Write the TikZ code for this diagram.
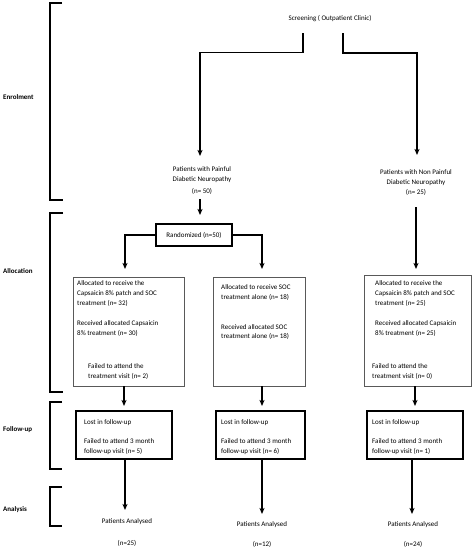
\documentclass[tikz,border=0pt]{standalone}
\usepackage{fontspec}
\setmainfont{Carlito}
\usetikzlibrary{arrows.meta}
\begin{document}
\begin{tikzpicture}[x=1pt,y=-1pt,
  txt/.style={inner sep=0pt, font=\fontsize{7}{10}\selectfont, anchor=base west},
  ctxt/.style={txt, anchor=base},
  lbl/.style={inner sep=0pt, font=\fontsize{7}{10}\selectfont\bfseries, anchor=west},
  ln/.style={line width=1.3pt},
  arr/.style={ln, -{Stealth[length=6pt,width=5pt,inset=1.5pt]}},
  thinbox/.style={draw=black!65, line width=0.8pt, inner sep=0pt},
  thickbox/.style={draw, line width=1.6pt, inner sep=0pt, font=\fontsize{7}{10}\selectfont},
  bracket/.style={line width=1.3pt}]
\useasboundingbox (0,0) rectangle (474,549);

% phase brackets
\draw[bracket] (62,3) -- (50,3) -- (50,200) -- (63,200);
\draw[bracket] (63,213) -- (50,213) -- (50,392) -- (63,392);
\draw[bracket] (62,402) -- (50,402) -- (50,469) -- (62,469);
\draw[bracket] (62,487) -- (50,487) -- (50,526) -- (62,526);
\node[lbl] (lEnr) at (3,97) {Enrolment};
\node[lbl] (lAll) at (3,271) {Allocation};
\node[lbl] (lFol) at (3,430) {Follow-up};
\node[lbl] (lAna) at (3,510) {Analysis};

% screening
\node[ctxt] (scr) at (330,20.5) {Screening ( Outpatient Clinic)};
\node[ctxt] (pA1) at (202,171.6) {Patients with Painful};
\node[ctxt] (pA2) at (202,181.6) {Diabetic Neuropathy};
\node[ctxt] (pA3) at (202,193.3) {(n= 50)};
\node[ctxt] (pB1) at (416,174) {Patients with Non Painful};
\node[ctxt] (pB2) at (416,184) {Diabetic Neuropathy};
\node[ctxt] (pB3) at (416,194.6) {(n= 25)};

\coordinate (sL) at (303,33);
\coordinate (sR) at (343,33);
\coordinate (pLt) at (200,156);
\coordinate (pRt) at (417,155);
\draw[arr] (sL) -- ++(0,19.5) -| (pLt);
\draw[arr] (sR) -- ++(0,20) -| (pRt);

% randomized
\node[thickbox, minimum width=76pt, minimum height=22pt] (rand) at (194,235) {Randomized (n=50)};
\coordinate (p50b) at (200,199);
\coordinate (p50t) at (200,215);
\draw[arr] (p50b) -- (p50t);
\coordinate (rLt) at (125,269);
\coordinate (rRt) at (262,269);
\draw[arr] (rand.west) -| (rLt);
\draw[arr] (rand.east) -| (rRt);
\coordinate (n25b) at (416,207);
\coordinate (n25t) at (416,269);
\draw[arr] (n25b) -- (n25t);

% allocation boxes
\node[thinbox, minimum width=111pt, minimum height=109pt] (aL) at (128.5,331.5) {};
\node[thinbox, minimum width=92pt, minimum height=109pt] (aM) at (259,331.5) {};
\node[thinbox, minimum width=107pt, minimum height=111pt] (aR) at (417.5,330.5) {};

\node[txt] (aL1) at (77,285.6) {Allocated to receive the};
\node[txt] (aL2) at (77,295.6) {Capsaicin 8\% patch and SOC};
\node[txt] (aL3) at (77,305) {treatment (n= 32)};
\node[txt] (aL4) at (77,325) {Received allocated Capsaicin};
\node[txt] (aL5) at (77,335) {8\% treatment (n= 30)};
\node[txt] (aL6) at (88,368) {Failed to attend the};
\node[txt] (aL7) at (88,378.3) {treatment visit (n= 2)};

\node[txt] (aM1) at (221,289.6) {Allocated to receive SOC};
\node[txt] (aM2) at (221,299.6) {treatment alone (n= 18)};
\node[txt] (aM3) at (221,329) {Received allocated SOC};
\node[txt] (aM4) at (221,338.3) {treatment alone (n= 18)};

\node[txt] (aR1) at (375,285.6) {Allocated to receive the};
\node[txt] (aR2) at (375,295.6) {Capsaicin 8\% patch and SOC};
\node[txt] (aR3) at (375,305) {treatment (n= 25)};
\node[txt] (aR4) at (375,325) {Received allocated Capsaicin};
\node[txt] (aR5) at (375,335) {8\% treatment (n= 25)};
\node[txt] (aR6) at (372,368) {Failed to attend the};
\node[txt] (aR7) at (372,378.3) {treatment visit (n= 0)};

% follow-up boxes
\coordinate (fLt) at (124,406);
\coordinate (fMt) at (262,406);
\coordinate (fRt) at (415,406);
\draw[arr] (aL.south -| fLt) -- (fLt);
\draw[arr] (aM.south -| fMt) -- (fMt);
\draw[arr] (aR.south -| fRt) -- (fRt);

\node[thickbox, minimum width=96pt, minimum height=48pt] (fL) at (124,435) {};
\node[thickbox, minimum width=89pt, minimum height=48pt] (fM) at (260.5,435) {};
\node[thickbox, minimum width=96pt, minimum height=48pt] (fR) at (415,435) {};

\node[txt] (fL1) at (84,424.6) {Lost in follow-up};
\node[txt] (fL2) at (84,443.3) {Failed to attend 3 month};
\node[txt] (fL3) at (84,453.3) {follow-up visit (n= 5)};
\node[txt] (fM1) at (221,424.6) {Lost in follow-up};
\node[txt] (fM2) at (221,443.3) {Failed to attend 3 month};
\node[txt] (fM3) at (221,453.3) {follow-up visit (n= 6)};
\node[txt] (fR1) at (372,424.6) {Lost in follow-up};
\node[txt] (fR2) at (372,443.3) {Failed to attend 3 month};
\node[txt] (fR3) at (372,453.3) {follow-up visit (n= 1)};

% analysis
\coordinate (eLt) at (125,510);
\coordinate (eMt) at (262,514);
\coordinate (eRt) at (412,514);
\draw[arr] (fL.south -| eLt) -- (eLt);
\draw[arr] (fM.south -| eMt) -- (eMt);
\draw[arr] (fR.south -| eRt) -- (eRt);

\node[ctxt] (zL1) at (127,523.3) {Patients Analysed};
\node[ctxt] (zM1) at (262,526.3) {Patients Analysed};
\node[ctxt] (zR1) at (413,526.3) {Patients Analysed};
\node[ctxt] (zL2) at (127,545.3) {(n=25)};
\node[ctxt] (zM2) at (262,546.3) {(n=12)};
\node[ctxt] (zR2) at (413,546.3) {(n=24)};
\end{tikzpicture}
\end{document}
